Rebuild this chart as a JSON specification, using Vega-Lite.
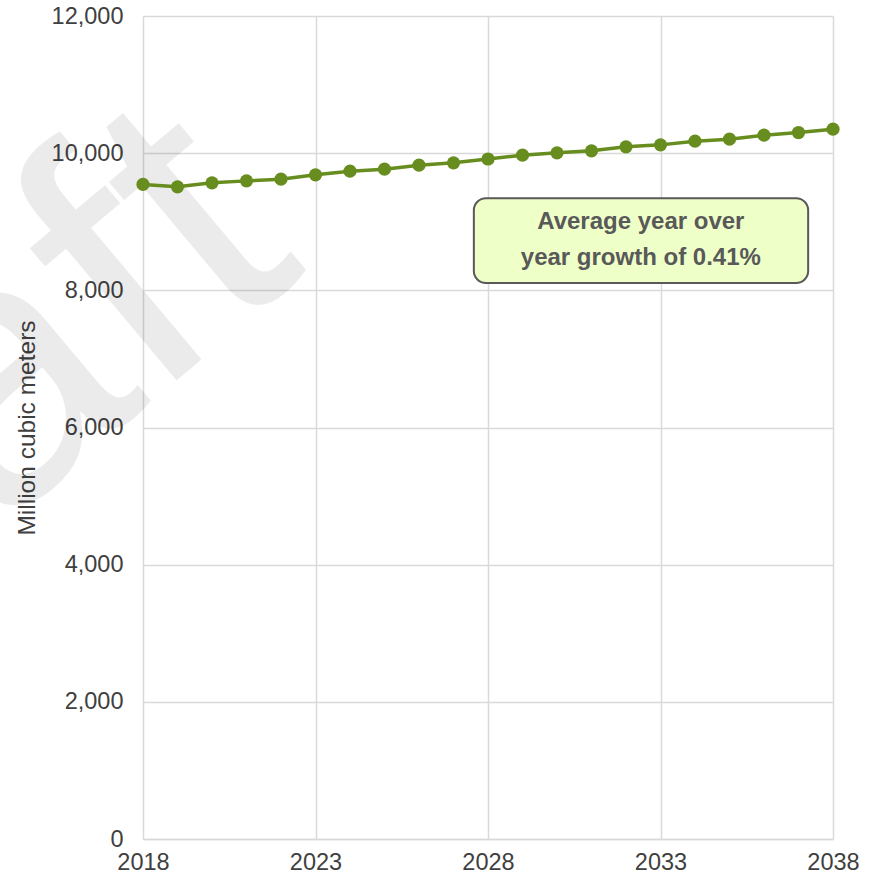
{
  "$schema": "https://vega.github.io/schema/vega-lite/v6.json",
  "width": 690,
  "height": 823,
  "autosize": {"type": "none"},
  "padding": {"left": 143, "top": 16, "right": 47, "bottom": 43},
  "background": "white",
  "config": {
    "font": "Liberation Sans",
    "view": {"stroke": null},
    "axis": {
      "gridColor": "#d9d9d9",
      "gridWidth": 1.5,
      "domainColor": "#d9d9d9",
      "domainWidth": 1.5,
      "ticks": false,
      "labelColor": "#404040",
      "labelFontSize": 23.5,
      "labelFont": "Liberation Sans",
      "titleFont": "Liberation Sans"
    }
  },
  "datasets": {
    "series": [
      {"year": 2018, "value": 9544},
      {"year": 2019, "value": 9509},
      {"year": 2020, "value": 9567},
      {"year": 2021, "value": 9596},
      {"year": 2022, "value": 9621},
      {"year": 2023, "value": 9684},
      {"year": 2024, "value": 9738},
      {"year": 2025, "value": 9767},
      {"year": 2026, "value": 9825},
      {"year": 2027, "value": 9859},
      {"year": 2028, "value": 9915},
      {"year": 2029, "value": 9971},
      {"year": 2030, "value": 10005},
      {"year": 2031, "value": 10034},
      {"year": 2032, "value": 10092},
      {"year": 2033, "value": 10121},
      {"year": 2034, "value": 10175},
      {"year": 2035, "value": 10204},
      {"year": 2036, "value": 10262},
      {"year": 2037, "value": 10301},
      {"year": 2038, "value": 10350}
    ],
    "one": [{"note": "annotation"}]
  },
  "layer": [
    {
      "data": {"name": "one"},
      "mark": {"type": "text", "text": "Draft", "fontSize": 370, "angle": -40, "align": "center", "baseline": "alphabetic", "color": "#000000", "opacity": 0.075},
      "encoding": {
        "x": {"datum": 2013.91, "type": "quantitative", "scale": {"domain": [2018, 2038], "nice": false, "zero": false}},
        "y": {"datum": 4551, "type": "quantitative", "scale": {"domain": [0, 12000], "nice": false}}
      }
    },
    {
      "data": {"name": "series"},
      "mark": {"type": "line", "color": "#678D1E", "strokeWidth": 3.5, "point": {"filled": true, "size": 175, "color": "#678D1E", "opacity": 1}},
      "encoding": {
        "x": {
          "field": "year",
          "type": "quantitative",
          "scale": {"domain": [2018, 2038], "nice": false, "zero": false},
          "axis": {
            "values": [2018, 2023, 2028, 2033, 2038],
            "format": "d",
            "title": null,
            "labelFlush": false,
            "labelOverlap": false,
            "labelPadding": 11,
            "grid": true
          }
        },
        "y": {
          "field": "value",
          "type": "quantitative",
          "scale": {"domain": [0, 12000], "nice": false},
          "axis": {
            "values": [0, 2000, 4000, 6000, 8000, 10000, 12000],
            "format": ",.0f",
            "title": "Million cubic meters",
            "titleFontSize": 24.5,
            "titleFontWeight": "normal",
            "titleColor": "#404040",
            "titlePadding": 12,
            "labelPadding": 20,
            "domain": false,
            "grid": true
          }
        }
      }
    },
    {
      "data": {"name": "one"},
      "mark": {"type": "rect", "fill": "#EFFFC8", "stroke": "#595959", "strokeWidth": 2, "cornerRadius": 12},
      "encoding": {
        "x": {"datum": 2027.59, "type": "quantitative"},
        "x2": {"datum": 2037.28},
        "y": {"datum": 9344, "type": "quantitative"},
        "y2": {"datum": 8106}
      }
    },
    {
      "data": {"name": "one"},
      "mark": {"type": "text", "text": ["Average year over", "year growth of 0.41%"], "fontSize": 24, "fontWeight": "bold", "color": "#595959", "align": "center", "baseline": "middle", "lineHeight": 36},
      "encoding": {
        "x": {"datum": 2032.43, "type": "quantitative"},
        "y": {"datum": 8999, "type": "quantitative"}
      }
    }
  ]
}
